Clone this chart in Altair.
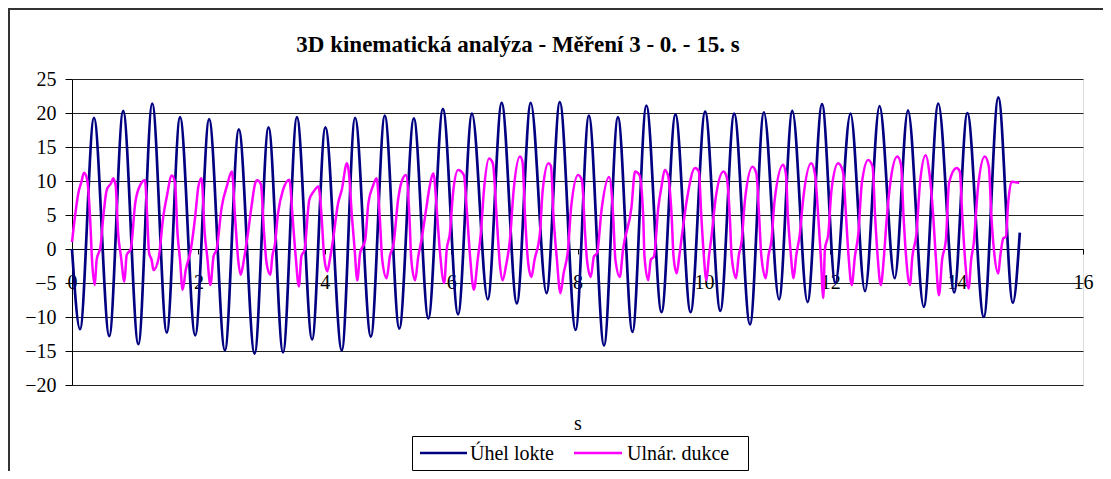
import altair as alt
import pandas as pd

# --- data ---
t_uhel = [0.00, 0.127, 0.348, 0.59, 0.81, 1.05, 1.27, 1.50, 1.71, 1.95, 2.17, 2.42, 2.64, 2.89,
          3.11, 3.34, 3.56, 3.80, 4.01, 4.27, 4.48, 4.73, 4.95, 5.18, 5.41, 5.64, 5.87, 6.11,
          6.33, 6.58, 6.80, 7.04, 7.26, 7.51, 7.72, 7.97, 8.18, 8.42, 8.64, 8.87, 9.09, 9.33,
          9.55, 9.79, 10.02, 10.26, 10.48, 10.73, 10.95, 11.19, 11.40, 11.64, 11.87, 12.08,
          12.32, 12.55, 12.78, 13.02, 13.23, 13.48, 13.71, 13.96, 14.17, 14.43, 14.66, 14.89, 15.00]
v_uhel = [0.0, -11.8, 19.3, -12.8, 20.3, -14.0, 21.4, -12.3, 19.4, -12.7, 19.1, -14.9, 17.6, -15.4,
          17.9, -15.2, 19.4, -13.3, 17.9, -14.9, 19.3, -12.9, 19.6, -11.7, 19.2, -10.2, 20.6, -9.6,
          19.9, -7.4, 21.5, -8.0, 21.5, -6.5, 21.6, -11.9, 19.6, -14.2, 19.4, -12.2, 21.1, -9.3,
          19.8, -9.3, 20.2, -9.1, 19.9, -11.1, 20.1, -7.4, 20.3, -7.8, 21.3, -5.0,
          19.9, -6.2, 21.0, -4.3, 20.4, -8.5, 21.4, -6.4, 20.0, -10.0, 22.3, -7.9, 2.4]

t_ulnar = [0.00, 0.05, 0.10, 0.15, 0.19, 0.24, 0.285, 0.32, 0.36, 0.39, 0.45, 0.50, 0.55, 0.62,
           0.65, 0.69, 0.73, 0.775, 0.83, 0.865, 0.93, 1.00, 1.08, 1.155, 1.19, 1.22, 1.26, 1.29,
           1.37, 1.445, 1.50, 1.58, 1.63, 1.67, 1.71, 1.75, 1.80, 1.88, 1.95, 2.00, 2.05, 2.10,
           2.14, 2.19, 2.24, 2.29, 2.37, 2.45, 2.53, 2.58, 2.63, 2.67, 2.72, 2.78, 2.84, 2.90,
           2.93, 2.99, 3.04, 3.08, 3.14, 3.17, 3.21, 3.26, 3.34, 3.44, 3.49, 3.54, 3.59, 3.63,
           3.68, 3.755, 3.82, 3.90, 3.95, 3.99, 4.04, 4.08, 4.13, 4.21, 4.27, 4.35, 4.38, 4.43,
           4.47, 4.515, 4.56, 4.64, 4.69, 4.76, 4.82, 4.87, 4.91, 4.98, 5.03, 5.09, 5.16, 5.21,
           5.285, 5.34, 5.37, 5.43, 5.48, 5.53, 5.61, 5.66, 5.72, 5.78, 5.82, 5.89, 5.93, 5.98,
           6.03, 6.11, 6.20, 6.255, 6.30, 6.36, 6.42, 6.47, 6.52, 6.60, 6.66, 6.72, 6.77, 6.815,
           6.87, 6.93, 6.99, 7.09, 7.13, 7.17, 7.22, 7.27, 7.32, 7.405, 7.45, 7.54, 7.58, 7.62,
           7.67, 7.73, 7.78, 7.85, 7.90, 8.01, 8.07, 8.12, 8.15, 8.21, 8.26, 8.31, 8.38, 8.50,
           8.565, 8.60, 8.67, 8.72, 8.855, 8.91, 8.98, 9.04, 9.06, 9.12, 9.16, 9.21, 9.28, 9.33,
           9.38, 9.43, 9.49, 9.52, 9.57, 9.61, 9.65, 9.73, 9.86, 9.92, 9.96, 10.00, 10.04, 10.08,
           10.12, 10.19, 10.31, 10.36, 10.41, 10.44, 10.51, 10.55, 10.60, 10.65, 10.77, 10.83,
           10.875, 10.91, 10.98, 11.02, 11.07, 11.12, 11.255, 11.30, 11.33, 11.37, 11.42, 11.46,
           11.52, 11.57, 11.70, 11.76, 11.81, 11.85, 11.89, 11.915, 11.97, 12.02, 12.125, 12.20,
           12.25, 12.29, 12.34, 12.39, 12.445, 12.50, 12.60, 12.67, 12.71, 12.75, 12.80, 12.85,
           12.89, 12.95, 13.06, 13.12, 13.16, 13.20, 13.26, 13.30, 13.365, 13.42, 13.51, 13.57,
           13.63, 13.67, 13.72, 13.77, 13.83, 13.88, 14.00, 14.05, 14.09, 14.13, 14.19, 14.23,
           14.27, 14.34, 14.445, 14.51, 14.55, 14.59, 14.66, 14.69, 14.74, 14.78, 14.815, 14.87,
           14.99]
v_ulnar = [1.0, 5.0, 8.2, 9.9, 11.2, 10.2, 4.8, -2.1, -5.3, -1.6, 0.3, 5.2, 8.7, 9.7,
           10.4, 9.4, 2.3, -1.1, -4.8, -0.9, 0.0, 6.7, 9.4, 10.1, 4.8, -0.6, -1.6, -3.1,
           -1.4, 4.8, 7.7, 10.8, 9.7, 2.3, -1.6, -6.0, -3.1, -0.1, 4.8, 9.2, 10.4, 2.3,
           -1.1, -5.3, -1.1, 0.0, 6.2, 9.2, 11.4, 4.8, -1.6, -3.8, -1.6, 2.0, 6.2, 9.7,
           10.1, 9.5, 2.3, -2.1, -3.8, -1.1, 0.6, 5.2, 8.7, 10.2, 4.8, -1.1, -5.5, -1.1,
           -0.1, 7.2, 8.4, 9.2, 4.8, -1.1, -3.3, -1.6, 1.3, 6.7, 8.7, 12.6, 11.4, 4.8,
           0.3, -4.6, -0.6, 1.3, 6.7, 9.2, 10.4, 4.8, -1.6, -4.3, -1.1, 0.8, 7.2, 9.7,
           10.9, 4.8, -1.6, -4.6, -1.1, 1.3, 6.2, 9.2, 11.1, 4.8, -0.1, -5.0, -0.1, 2.3,
           8.2, 11.6, 10.9, 4.8, -1.1, -6.0, -1.6, 2.3, 8.7, 13.3, 12.6, 4.8, -2.1, -4.6,
           -2.4, 1.3, 8.7, 13.6, 12.8, 4.8, -2.1, -4.1, -1.6, 2.3, 8.7, 12.6, 12.2, 4.8,
           -1.1, -6.5, -3.6, -0.1, 6.2, 10.9, 10.1, 2.3, -1.6, -4.1, -1.1, -0.6, 5.7, 10.6,
           4.8, -1.6, -4.1, -0.1, 6.2, 11.4, 10.9, 4.8, -1.1, -4.6, -1.6, -1.1, 6.2, 9.2,
           11.6, 10.9, 4.8, -1.1, -3.6, -1.1, 1.8, 7.2, 11.9, 11.4, 4.8, -1.1, -4.6, -1.1,
           1.8, 7.7, 11.4, 10.6, 4.8, -1.1, -4.3, -1.1, 1.3, 7.2, 12.1, 11.1,
           4.8, -1.1, -4.3, -1.1, 1.3, 7.2, 12.4, 10.9, 4.8, -0.1, -4.3, -1.1,
           2.3, 7.2, 12.6, 10.9, 4.8, -1.1, -7.2, -0.1, 2.3, 8.7, 12.6, 11.4,
           4.8, -1.1, -5.3, -1.1, 2.3, 9.7, 13.1, 12.1, 4.8, -1.1, -5.3, -1.1,
           4.0, 9.7, 13.6, 12.4, 4.8, -1.1, -5.3, -1.1, 2.3, 9.7, 13.8, 11.1,
           4.8, -1.1, -6.8, -1.6, 1.3, 9.7, 11.9, 11.4, 4.8, -1.1, -5.8, -1.6,
           0.8, 9.2, 13.6, 12.1, 4.8, -0.1, -3.6, -1.1, 1.6, 1.8, 6.7, 9.9,
           9.7]

series_names = ["Úhel lokte", "Ulnár. dukce"]
series_colors = ["#000080", "#FF00FF"]
y_ticks = [-20, -15, -10, -5, 0, 5, 10, 15, 20, 25]
x_ticks = [0, 2, 4, 6, 8, 10, 12, 14, 16]
title_text = "3D kinematická analýza - Měření 3 - 0. - 15. s"
x_title = "s"

df_u = pd.DataFrame({"t": t_uhel, "v": v_uhel, "serie": series_names[0]})
df_n = pd.DataFrame({"t": t_ulnar, "v": v_ulnar, "serie": series_names[1]})

FONT = "Liberation Serif, DejaVu Serif"
FS = 20
W, H = 1011, 306

color = alt.Color(
    "serie:N",
    scale=alt.Scale(domain=series_names, range=series_colors),
    legend=None,
)

x_enc = alt.X(
    "t:Q",
    scale=alt.Scale(domain=[0, 16], nice=False, zero=False),
    axis=alt.Axis(
        values=x_ticks, title=x_title, offset=-136, grid=False,
        domainColor="black", tickColor="black", tickSize=5,
        labelFont=FONT, labelFontSize=FS, labelColor="black", labelPadding=18,
        labelFlush=False, labelOverlap=False,
        titleFont=FONT, titleFontSize=FS, titleFontWeight="normal", titleColor="black",
        titleY=180, titleBaseline="alphabetic",
    ),
)
y_enc = alt.Y(
    "v:Q",
    scale=alt.Scale(domain=[-20, 25], nice=False, zero=False),
    axis=alt.Axis(
        values=y_ticks, title=None, grid=True, gridColor="#222222", gridWidth=1,
        domainColor="black", tickColor="black", tickSize=7,
        labelFont=FONT, labelFontSize=FS, labelColor="black", labelPadding=9,
        labelFlush=False,
    ),
)

line_u = alt.Chart(df_u).mark_line(strokeWidth=2.7, interpolate="monotone").encode(
    x=x_enc, y=y_enc, color=color
)
line_n = alt.Chart(df_n).mark_line(strokeWidth=2.5, interpolate="monotone").encode(
    x=x_enc, y=y_enc, color=color
)

frame = alt.Data(values=[{"k": 1}])

# chart-area border (top and left edges visible in the reference)
top_border = alt.Chart(frame).mark_rule(color="#333333", strokeWidth=2).encode(
    x=alt.value(-64), x2=alt.value(W + 20), y=alt.value(-70)
)
left_border = alt.Chart(frame).mark_rule(color="#333333", strokeWidth=2).encode(
    x=alt.value(-63), y=alt.value(-71), y2=alt.value(H + 90)
)

# chart title
title_mark = alt.Chart(frame).mark_text(
    text=title_text, font=FONT, fontSize=23, fontWeight="bold", color="black",
    align="center", baseline="alphabetic",
).encode(x=alt.value(446), y=alt.value(-27))

# legend box with the two entries
legend_box = alt.Chart(frame).mark_rect(fill="white", stroke="black", strokeWidth=1).encode(
    x=alt.value(340.5), x2=alt.value(676.5), y=alt.value(357.5), y2=alt.value(391.5)
)
leg_line_1 = alt.Chart(frame).mark_rule(color=series_colors[0], strokeWidth=2.5).encode(
    x=alt.value(348), x2=alt.value(395), y=alt.value(374)
)
leg_text_1 = alt.Chart(frame).mark_text(
    text=series_names[0], font=FONT, fontSize=FS, color="black", align="left", baseline="alphabetic"
).encode(x=alt.value(398), y=alt.value(381))
leg_line_2 = alt.Chart(frame).mark_rule(color=series_colors[1], strokeWidth=2.5).encode(
    x=alt.value(502), x2=alt.value(550), y=alt.value(374)
)
leg_text_2 = alt.Chart(frame).mark_text(
    text=series_names[1], font=FONT, fontSize=FS, color="black", align="left", baseline="alphabetic"
).encode(x=alt.value(555), y=alt.value(381))

chart = alt.layer(
    line_u, line_n, top_border, left_border, title_mark,
    legend_box, leg_line_1, leg_text_1, leg_line_2, leg_text_2,
).properties(
    width=W, height=H,
    autosize=alt.AutoSizeParams(type="none"),
    padding={"left": 64, "top": 71, "right": 20, "bottom": 86},
).configure_view(
    fill="#C0C0C0", stroke="#808080", strokeWidth=2
).configure(background="white")

chart.save("out.html", embed_options={"renderer": "svg", "actions": False})
